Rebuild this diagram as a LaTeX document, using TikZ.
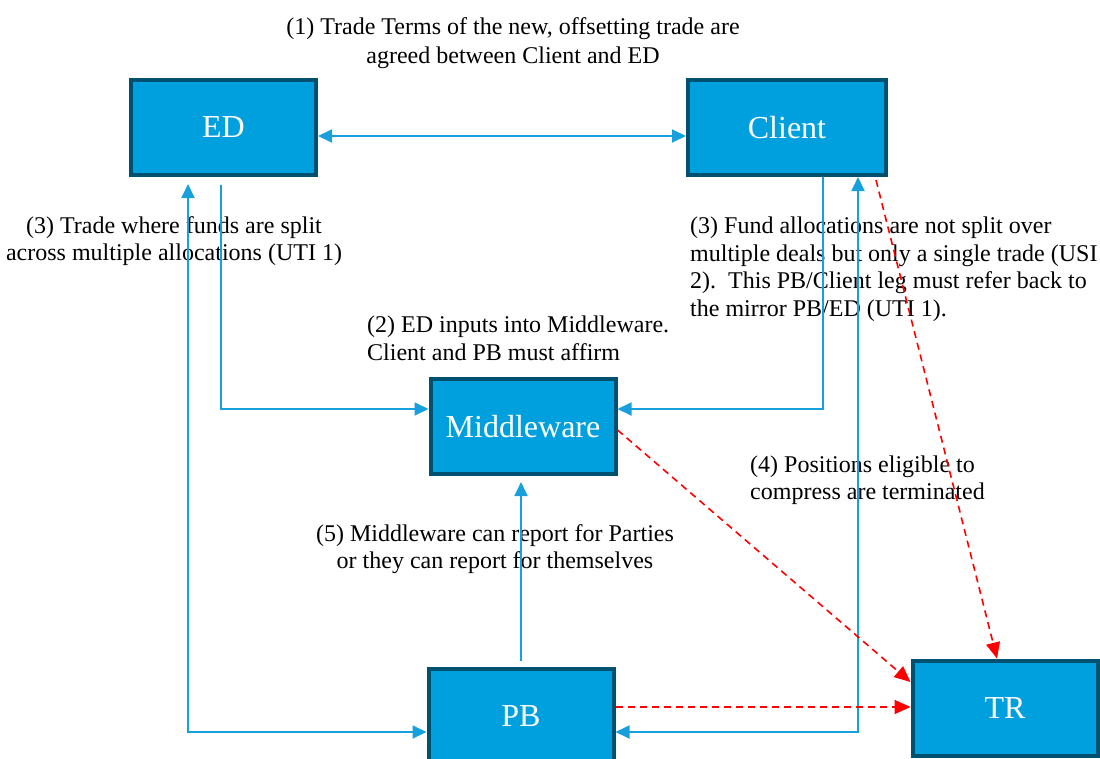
\documentclass[tikz,border=0pt]{standalone}
\usepackage{fontspec}
\setmainfont{Liberation Serif}
\usepackage{tikz}
\usetikzlibrary{shapes,arrows,arrows.meta,positioning,calc}

\definecolor{boxblue}{RGB}{0,160,223}
\definecolor{boxedge}{RGB}{0,80,112}
\definecolor{linkblue}{RGB}{24,160,220}

\begin{document}
\begin{tikzpicture}[x=1pt,y=-1pt,
		party/.style={draw=boxedge,fill=boxblue,line width=4pt,minimum width=185pt,minimum height=95pt,text=white,font=\fontsize{32}{38}\selectfont},
		note/.style={inner sep=0pt,font=\fontsize{24}{27.5}\selectfont},
		blueflow/.style={linkblue,line width=1.8pt,>={Triangle[length=14pt,width=13pt]}},
		redflow/.style={red,line width=1.6pt,dash pattern=on 7pt off 5pt,>={Triangle[length=16pt,width=14pt]}}]
		\useasboundingbox (0,0) rectangle (1100,758);
		
		\node[party] (ED) at (223.5,127.5) {ED};
		\node[party,minimum width=198pt] (Client) at (787,127.5) {Client};
		\node[party] (Middleware) at (523,426.5) {Middleware};
		\node[party] (PB) at (521,716.5) {PB};
		\node[party] (TR) at (1005,708) {TR};
		
		\node[note,align=center] (terms) at (513,43) {(1) Trade Terms of the new, offsetting trade are\\[2pt]agreed between Client and ED};
		\node[note,align=center] (split) at (174,241) {(3) Trade where funds are split\\across multiple allocations (UTI 1)};
		\node[note,align=left,anchor=west] (alloc) at (690,269) {(3) Fund allocations are not split over\\multiple deals but only a single trade (USI\\2).\ \ This PB/Client leg must refer back to\\the mirror PB/ED (UTI 1).};
		\node[note,align=left,anchor=west] (inputs) at (367,338.5) {(2) ED inputs into Middleware.\\Client and PB must affirm};
		\node[note,align=left,anchor=west] (terminate) at (750,480) {(4) Positions eligible to\\compress are terminated};
		\node[note,align=center] (report) at (495,549) {(5) Middleware can report for Parties\\or they can report for themselves};
		
		% blue links
		\draw[blueflow,<->] ([yshift=-8.5pt]ED.east) -- ([yshift=-8.5pt]Client.west);
		\draw[blueflow,->] ([xshift=-2.5pt,yshift=-8pt]ED.south) |- ([yshift=17.5pt]Middleware.west);
		\draw[blueflow,->] ([xshift=36pt]Client.south) |- ([yshift=17.5pt]Middleware.east);
		\draw[blueflow,<->] ([xshift=-35.5pt,yshift=-7pt]ED.south) |- ([yshift=-15.5pt]PB.west);
		\draw[blueflow,<->] ([xshift=71pt]Client.south) |- ([yshift=-15.5pt]PB.east);
		\draw[blueflow,->] ([yshift=6pt]PB.north) -- ($(Middleware.south -| PB.north)+(0,6)$);
		
		% reporting to TR
		\draw[redflow,->] ([xshift=89pt,yshift=-3pt]Client.south) -- ([xshift=-8pt]TR.north);
		\draw[redflow,->] ([yshift=-3.5pt]Middleware.east) -- ([yshift=26pt]TR.west);
		\draw[redflow,->] ([yshift=9.5pt]PB.east) -- ([yshift=1pt]TR.west);
\end{tikzpicture}
\end{document}
